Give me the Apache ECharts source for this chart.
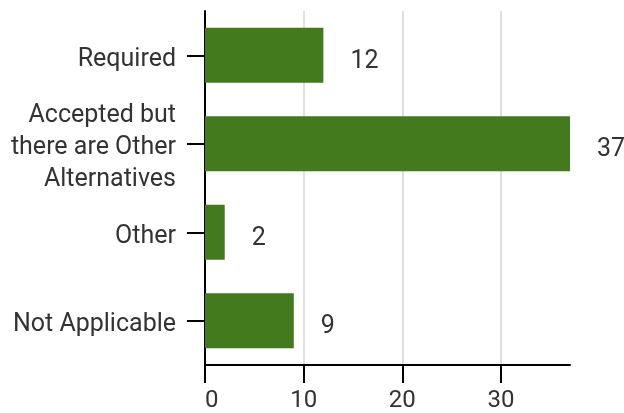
<!DOCTYPE html>
<html><head><meta charset="utf-8">
<script src="https://cdn.jsdelivr.net/npm/echarts@6/dist/echarts.min.js"></script>
<style>html,body{margin:0;padding:0;background:#fff}#c{width:624px;height:413px}</style>
</head><body><div id="c"></div>
<script>
var categories = ['Required', 'Accepted but\nthere are Other\nAlternatives', 'Other', 'Not Applicable'];
var values = [12, 37, 2, 9];
var xTicks = [0, 10, 20, 30];

var chart = echarts.init(document.getElementById('c'));
var gridColor = '#e0e0e0';
chart.setOption({
  animation: false,
  textStyle: { fontFamily: 'Roboto' },
  grid: { left: 205, right: 54, top: 11, bottom: 43, containLabel: false },
  xAxis: {
    type: 'value', min: 0, max: 37, interval: 10,
    axisLine: { show: true, lineStyle: { color: '#000', width: 2 } },
    axisTick: { show: true, length: 18, lineStyle: { color: '#000', width: 2 }, customValues: xTicks },
    axisLabel: { fontSize: 24, color: '#333', margin: 24, customValues: xTicks, alignMinLabel: 'left', fontFamily: 'Roboto' },
    splitLine: { show: true, lineStyle: { color: [gridColor, gridColor, gridColor, gridColor, 'rgba(0,0,0,0)'], width: 2 } }
  },
  yAxis: {
    type: 'category', inverse: true, data: categories,
    axisLine: { show: true, lineStyle: { color: '#000', width: 2 } },
    axisTick: { show: true, length: 18, alignWithLabel: true, lineStyle: { color: '#000', width: 2 } },
    axisLabel: {
      fontSize: 25, color: '#333', margin: 29, align: 'right', fontFamily: 'Roboto',
      formatter: function (v) { return v.split('\n').map(function (s) { return '{a|' + s + '}'; }).join('\n'); },
      rich: { a: { fontSize: 25, color: '#333', fontFamily: 'Roboto', lineHeight: 32, padding: [8, 0, 0, 0], align: 'right' } }
    }
  },
  series: [{
    type: 'bar', data: values, barWidth: '62%',
    itemStyle: { color: '#437a1d' },
    label: { show: true, position: 'right', distance: 27, fontSize: 25, color: '#333', offset: [0, 6], fontFamily: 'Roboto' }
  }]
});
</script></body></html>
